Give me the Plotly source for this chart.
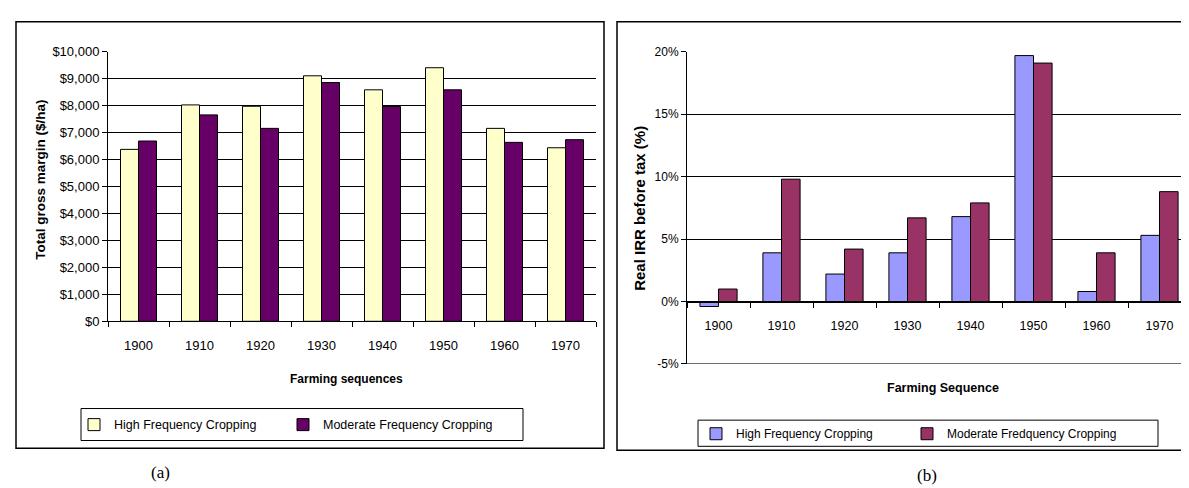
import plotly.graph_objects as go

W, H = 1189, 488

# ---------------- data ----------------
years = ["1900", "1910", "1920", "1930", "1940", "1950", "1960", "1970"]

gm_high = [6380, 8030, 7980, 9110, 8590, 9410, 7160, 6440]
gm_moderate = [6690, 7660, 7160, 8860, 7970, 8590, 6640, 6740]

irr_high = [-0.4, 3.9, 2.2, 3.9, 6.8, 19.7, 0.8, 5.3]
irr_moderate = [1.0, 9.8, 4.2, 6.7, 7.9, 19.1, 3.9, 8.8]

gm_ticks = [0, 1000, 2000, 3000, 4000, 5000, 6000, 7000, 8000, 9000, 10000]
irr_ticks = [-5, 0, 5, 10, 15, 20]
irr_ticktext = ["-5%", "0%", "5%", "10%", "15%", "20%"]

legend_a = ["High Frequency Cropping", "Moderate Frequency Cropping"]
legend_b = ["High Frequency Cropping", "Moderate Fredquency Cropping"]

# ---------------- helpers ----------------
def px(x):
    return x / W


def py(y):
    return 1 - y / H


SANS = "Liberation Sans, Arial, sans-serif"
SERIF = "Liberation Serif, Times New Roman, serif"

fig = go.Figure()

line = dict(color="black", width=1)

fig.add_trace(go.Bar(x=years, y=gm_high, name=legend_a[0], marker=dict(color="#FFFFCC", line=line),
                     xaxis="x", yaxis="y", legend="legend"))
fig.add_trace(go.Bar(x=years, y=gm_moderate, name=legend_a[1], marker=dict(color="#660066", line=line),
                     xaxis="x", yaxis="y", legend="legend"))
fig.add_trace(go.Bar(x=years, y=irr_high, name=legend_b[0], marker=dict(color="#9999FF", line=line),
                     xaxis="x2", yaxis="y2", legend="legend2"))
fig.add_trace(go.Bar(x=years, y=irr_moderate, name=legend_b[1], marker=dict(color="#993366", line=line),
                     xaxis="x2", yaxis="y2", legend="legend2"))

# domains
ya_dom = [py(316), py(38)]
yb_dom = [py(360), py(38)]
yb_range = [min(irr_ticks), max(irr_ticks)]
zero_pos = yb_dom[0] + (0 - yb_range[0]) / (yb_range[1] - yb_range[0]) * (yb_dom[1] - yb_dom[0])

fa_tick = dict(family=SANS, size=13, color="black")
fb_xtick = dict(family=SANS, size=12.5, color="black")
fb_ytick = dict(family=SANS, size=12, color="black")

fig.update_layout(
    width=W, height=H,
    margin=dict(l=0, r=0, t=0, b=0),
    paper_bgcolor="white", plot_bgcolor="white",
    barmode="group", bargap=0.41, bargroupgap=0,
    showlegend=True,
    xaxis=dict(domain=[px(100), px(588)], anchor="y", type="category",
               tickson="boundaries", ticks="outside", ticklen=5, tickcolor="black",
               showline=True, linecolor="black", linewidth=1, showgrid=False,
               tickfont=fa_tick, ticklabelstandoff=12, fixedrange=True),
    yaxis=dict(domain=ya_dom, anchor="x", range=[0, 10000], tickvals=gm_ticks,
               tickformat="$,.0f", ticks="outside", ticklen=5, tickcolor="black",
               showline=True, linecolor="black", linewidth=1,
               showgrid=True, gridcolor="black", gridwidth=1, zeroline=False,
               tickfont=fa_tick, fixedrange=True),
    xaxis2=dict(domain=[px(679), px(1183)], anchor="free", position=zero_pos, type="category",
                tickson="boundaries", ticks="outside", ticklen=5, tickcolor="black",
                showline=True, linecolor="black", linewidth=1, showgrid=False,
                tickfont=fb_xtick, ticklabelstandoff=12, fixedrange=True),
    yaxis2=dict(domain=yb_dom, anchor="x2", range=yb_range, tickvals=irr_ticks, ticktext=irr_ticktext,
                ticks="outside", ticklen=5, tickcolor="black",
                showline=True, linecolor="black", linewidth=1,
                showgrid=True, gridcolor="black", gridwidth=1, zeroline=False,
                tickfont=fb_ytick, fixedrange=True),
    legend=dict(orientation="h", x=px(66), y=py(423), xanchor="left", yanchor="middle",
                bgcolor="rgba(0,0,0,0)", borderwidth=0, entrywidth=164, entrywidthmode="pixels",
                font=dict(family=SANS, size=12.5, color="black"), itemclick=False, itemdoubleclick=False),
    legend2=dict(orientation="h", x=px(688), y=py(432), xanchor="left", yanchor="middle",
                 bgcolor="rgba(0,0,0,0)", borderwidth=0, entrywidth=166, entrywidthmode="pixels",
                 font=dict(family=SANS, size=12, color="black"), itemclick=False, itemdoubleclick=False),
)

# panel frames, legend boxes and the bottom (-5%) grid line of panel b
shapes = [
    dict(type="rect", xref="paper", yref="paper", x0=px(8), x1=px(596), y0=py(447), y1=py(7),
         line=dict(color="black", width=1.5), fillcolor="rgba(0,0,0,0)", layer="below"),
    dict(type="rect", xref="paper", yref="paper", x0=px(609), x1=px(1195), y0=py(449), y1=py(7),
         line=dict(color="black", width=1.5), fillcolor="rgba(0,0,0,0)", layer="below"),
    dict(type="rect", xref="paper", yref="paper", x0=px(73), x1=px(515), y0=py(439), y1=py(406),
         line=dict(color="black", width=1), fillcolor="rgba(0,0,0,0)", layer="below"),
    dict(type="rect", xref="paper", yref="paper", x0=px(690), x1=px(1150), y0=py(445), y1=py(418),
         line=dict(color="black", width=1), fillcolor="rgba(0,0,0,0)", layer="below"),
    dict(type="line", xref="x2 domain", yref="y2", x0=0, x1=1, y0=yb_range[0], y1=yb_range[0],
         line=dict(color="black", width=1), layer="below"),
]
fig.update_layout(shapes=shapes)

ann = [
    dict(text="<b>Total gross margin ($/ha)</b>", x=px(33), y=py(170), textangle=-90,
         font=dict(family=SANS, size=13.5, color="black")),
    dict(text="<b>Farming sequences</b>", x=px(338), y=py(376),
         font=dict(family=SANS, size=12, color="black")),
    dict(text="<b>Real IRR before tax (%)</b>", x=px(632), y=py(200), textangle=-90,
         font=dict(family=SANS, size=15, color="black")),
    dict(text="<b>Farming Sequence</b>", x=px(935), y=py(385),
         font=dict(family=SANS, size=12.5, color="black")),
    dict(text="(a)", x=px(152), y=py(472), font=dict(family=SERIF, size=17, color="black")),
    dict(text="(b)", x=px(919), y=py(475), font=dict(family=SERIF, size=17, color="black")),
]
for a in ann:
    a.update(xref="paper", yref="paper", showarrow=False, xanchor="center", yanchor="middle")
fig.update_layout(annotations=ann)

fig.write_html("out.html")
